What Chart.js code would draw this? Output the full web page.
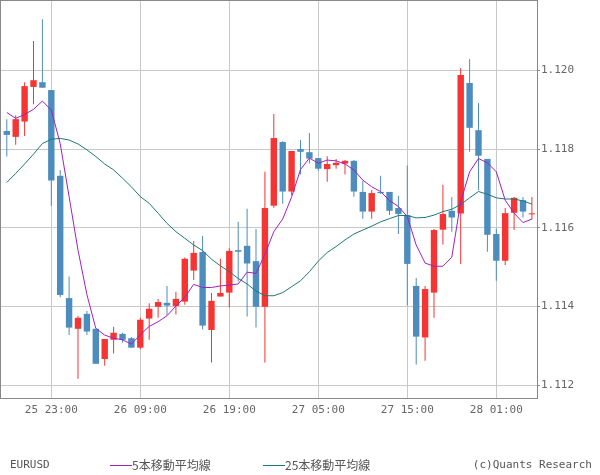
<!DOCTYPE html>
<html lang="ja">
<head>
<meta charset="UTF-8">
<title>EURUSD</title>
<script src="https://cdn.jsdelivr.net/npm/chart.js@4.4.0/dist/chart.umd.min.js"></script>
<style>
  body { margin: 0; background: #fff; }
  #wrap { position: relative; width: 600px; height: 475px; }
  #wrap canvas { position: absolute; left: 0; top: 0; }
  .lg { position: absolute; top: 457px; font: 11px 'DejaVu Sans Mono', monospace; color: #555; white-space: nowrap; line-height: 16px; }
  .jp { font-family: 'Noto Sans CJK JP', sans-serif; font-size: 12px; }
  .mk { position: absolute; top: 465px; width: 22px; height: 1px; }
</style>
</head>
<body>
<div id="wrap">
  <canvas id="mychart" width="600" height="475"></canvas>
  <span class="lg" style="left:10px">EURUSD</span>
  <div class="mk" style="left:110px;background:#a020c0"></div>
  <span class="lg jp" style="left:132px">5本移動平均線</span>
  <div class="mk" style="left:263px;background:#1b7a72"></div>
  <span class="lg jp" style="left:285px">25本移動平均線</span>
  <span class="lg" style="right:8px">(c)Quants Research</span>
</div>
<script>
  // 1時間足 25日18:00〜28日05:00
  const times = [
    '25 18:00', '25 19:00', '25 20:00', '25 21:00', '25 22:00', '25 23:00',
    '26 00:00', '26 01:00', '26 02:00', '26 03:00', '26 04:00', '26 05:00', '26 06:00', '26 07:00',
    '26 08:00', '26 09:00', '26 10:00', '26 11:00', '26 12:00', '26 13:00', '26 14:00', '26 15:00',
    '26 16:00', '26 17:00', '26 18:00', '26 19:00', '26 20:00', '26 21:00', '26 22:00', '26 23:00',
    '27 00:00', '27 01:00', '27 02:00', '27 03:00', '27 04:00', '27 05:00', '27 06:00', '27 07:00',
    '27 08:00', '27 09:00', '27 10:00', '27 11:00', '27 12:00', '27 13:00', '27 14:00', '27 15:00',
    '27 16:00', '27 17:00', '27 18:00', '27 19:00', '27 20:00', '27 21:00', '27 22:00', '27 23:00',
    '28 00:00', '28 01:00', '28 02:00', '28 03:00', '28 04:00', '28 05:00'
  ];

  const open = [
    1.11846, 1.11831, 1.11870, 1.11958, 1.11970, 1.11950, 1.11732, 1.11421, 1.11343, 1.11381,
    1.11343, 1.11266, 1.11315, 1.11330, 1.11319, 1.11295, 1.11369, 1.11399, 1.11409, 1.11401,
    1.11412, 1.11491, 1.11538, 1.11340, 1.11425, 1.11435, 1.11543, 1.11554, 1.11515, 1.11399,
    1.11656, 1.11818, 1.11692, 1.11800, 1.11792, 1.11777, 1.11749, 1.11759, 1.11763, 1.11770,
    1.11691, 1.11641, 1.11691, 1.11691, 1.11650, 1.11632, 1.11452, 1.11321, 1.11435, 1.11595,
    1.11643, 1.11636, 1.11968, 1.11848, 1.11775, 1.11584, 1.11516, 1.11638, 1.11670, 1.11634
  ];
  const high = [
    1.11876, 1.11886, 1.11970, 1.12075, 1.12130, 1.11950, 1.11747, 1.11476, 1.11376, 1.11388,
    1.11343, 1.11317, 1.11348, 1.11333, 1.11322, 1.11371, 1.11408, 1.11419, 1.11452, 1.11437,
    1.11524, 1.11566, 1.11579, 1.11434, 1.11521, 1.11548, 1.11615, 1.11648, 1.11597, 1.11742,
    1.11889, 1.11820, 1.11795, 1.11823, 1.11841, 1.11777, 1.11782, 1.11775, 1.11772, 1.11772,
    1.11719, 1.11696, 1.11732, 1.11691, 1.11681, 1.11758, 1.11472, 1.11452, 1.11597, 1.11709,
    1.11678, 1.12006, 1.12029, 1.11917, 1.11775, 1.11598, 1.11650, 1.11678, 1.11678, 1.11678
  ];
  const low = [
    1.11781, 1.11811, 1.11833, 1.11914, 1.11956, 1.11656, 1.11423, 1.11327, 1.11216, 1.11327,
    1.11254, 1.11249, 1.11280, 1.11308, 1.11295, 1.11291, 1.11315, 1.11371, 1.11378, 1.11379,
    1.11404, 1.11467, 1.11341, 1.11257, 1.11425, 1.11397, 1.11463, 1.11374, 1.11346, 1.11257,
    1.11651, 1.11661, 1.11683, 1.11735, 1.11763, 1.11745, 1.11717, 1.11750, 1.11735, 1.11679,
    1.11623, 1.11623, 1.11686, 1.11632, 1.11584, 1.11402, 1.11252, 1.11262, 1.11371, 1.11557,
    1.11590, 1.11508, 1.11793, 1.11696, 1.11539, 1.11465, 1.11505, 1.11594, 1.11626, 1.11621
  ];
  const close = [
    1.11836, 1.11876, 1.11960, 1.11975, 1.11956, 1.11720, 1.11429, 1.11346, 1.11371, 1.11336,
    1.11254, 1.11317, 1.11333, 1.11315, 1.11295, 1.11366, 1.11394, 1.11411, 1.11402, 1.11419,
    1.11521, 1.11536, 1.11351, 1.11414, 1.11434, 1.11541, 1.11539, 1.11509, 1.11399, 1.11650,
    1.11828, 1.11692, 1.11795, 1.11793, 1.11776, 1.11750, 1.11762, 1.11765, 1.11770, 1.11692,
    1.11641, 1.11688, 1.11688, 1.11643, 1.11635, 1.11508, 1.11323, 1.11444, 1.11594, 1.11635,
    1.11626, 1.11988, 1.11854, 1.11783, 1.11582, 1.11516, 1.11637, 1.11676, 1.11641, 1.11634
  ];
  // 5本移動平均線
  const ma5 = [
    1.11893, 1.11878, 1.11888, 1.11901, 1.11922, 1.11899, 1.11814, 1.11679, 1.11543, 1.11430,
    1.11344, 1.11327, 1.11319, 1.11315, 1.11304, 1.11328, 1.11349, 1.11361, 1.11376, 1.11401,
    1.11423, 1.11456, 1.11448, 1.11448, 1.11452, 1.11454, 1.11457, 1.11487, 1.11484, 1.11532,
    1.11590, 1.11622, 1.11678, 1.11748, 1.11777, 1.11764, 1.11772, 1.11770, 1.11762, 1.11747,
    1.11721, 1.11704, 1.11692, 1.11669, 1.11654, 1.11628, 1.11556, 1.11510, 1.11502, 1.11502,
    1.11525, 1.11666, 1.11742, 1.11776, 1.11765, 1.11742, 1.11670, 1.11637, 1.11613, 1.11622
  ];
  // 25本移動平均線
  const ma25 = [
    1.11715, 1.11738, 1.11762, 1.11787, 1.11814, 1.11825, 1.11827, 1.11823, 1.11813, 1.11798,
    1.11781, 1.11762, 1.11747, 1.11726, 1.11704, 1.11679, 1.11662, 1.11637, 1.11611, 1.11590,
    1.11573, 1.11556, 1.11542, 1.11520, 1.11503, 1.11488, 1.11471, 1.11457, 1.11439, 1.11427,
    1.11427, 1.11435, 1.11450, 1.11465, 1.11488, 1.11515, 1.11537, 1.11552, 1.11569, 1.11584,
    1.11594, 1.11604, 1.11615, 1.11623, 1.11631, 1.11631, 1.11625, 1.11626, 1.11632, 1.11641,
    1.11647, 1.11659, 1.11676, 1.11692, 1.11685, 1.11676, 1.11673, 1.11673, 1.11668, 1.11660
  ];

  const xTicks = [5, 15, 25, 35, 45, 55];
  const yTicks = [1.112, 1.114, 1.116, 1.118, 1.120];

  const RED = '#f53434';
  const BLUE = '#4d8dbd';
  const candleColors = open.map((o, i) => close[i] >= o ? RED : BLUE);

  const axisFont = { family: "'DejaVu Sans Mono', monospace", size: 11 };

  // 枠線
  const framePlugin = {
    id: 'frame',
    afterDraw(chart) {
      const { ctx, chartArea: a } = chart;
      ctx.save();
      ctx.strokeStyle = '#888';
      ctx.lineWidth = 1;
      ctx.strokeRect(a.left - 0.5, a.top + 0.5, a.right - a.left + 1, a.bottom - a.top);
      ctx.restore();
    }
  };

  const ctx = document.getElementById('mychart');
  new Chart(ctx, {
    data: {
      datasets: [{
        type: 'line',
        label: '5本移動平均線',
        data: ma5.map((v, i) => ({ x: i, y: v })),
        borderColor: '#a020c0',
        borderWidth: 1,
        pointRadius: 0,
        order: 0
      }, {
        type: 'line',
        label: '25本移動平均線',
        data: ma25.map((v, i) => ({ x: i, y: v })),
        borderColor: '#1b7a72',
        borderWidth: 1,
        pointRadius: 0,
        order: 1
      }, {
        type: 'bar',
        label: 'wick',
        data: low.map((v, i) => ({ x: i, y: [v, high[i]] })),
        backgroundColor: candleColors,
        maxBarThickness: 1,
        grouped: false,
        order: 3
      }, {
        type: 'bar',
        label: 'body',
        data: open.map((v, i) => ({ x: i, y: [v, close[i]] })),
        backgroundColor: candleColors,
        maxBarThickness: 7,
        minBarLength: 1,
        grouped: false,
        order: 2
      }]
    },
    options: {
      responsive: false,
      animation: false,
      devicePixelRatio: 1,
      layout: { padding: { left: 1, top: 0, right: 0, bottom: 0 } },
      plugins: { legend: { display: false }, tooltip: { enabled: false } },
      scales: {
        x: {
          type: 'linear',
          min: -0.652,
          max: 59.573,
          offset: false,
          afterBuildTicks: s => { s.ticks = xTicks.map(v => ({ value: v })); },
          afterFit: s => { s.height = 77; s.paddingLeft = 0; s.paddingRight = 0; },
          ticks: {
            callback: v => times[v],
            font: axisFont,
            color: '#666',
            padding: 6,
            maxRotation: 0,
            autoSkip: false
          },
          grid: { color: '#c8c8c8', offset: false, drawTicks: false },
          border: { display: false }
        },
        y: {
          position: 'right',
          min: 1.11167,
          max: 1.12179,
          afterBuildTicks: s => { s.ticks = yTicks.map(v => ({ value: v })); },
          afterFit: s => { s.width = 63; s.paddingTop = 0; s.paddingBottom = 0; },
          ticks: {
            callback: v => v.toFixed(3),
            font: axisFont,
            color: '#666',
            padding: 1
          },
          grid: { color: '#c8c8c8', tickLength: 3, tickColor: '#888' },
          border: { display: false }
        }
      }
    },
    plugins: [framePlugin]
  });
</script>
</body>
</html>
